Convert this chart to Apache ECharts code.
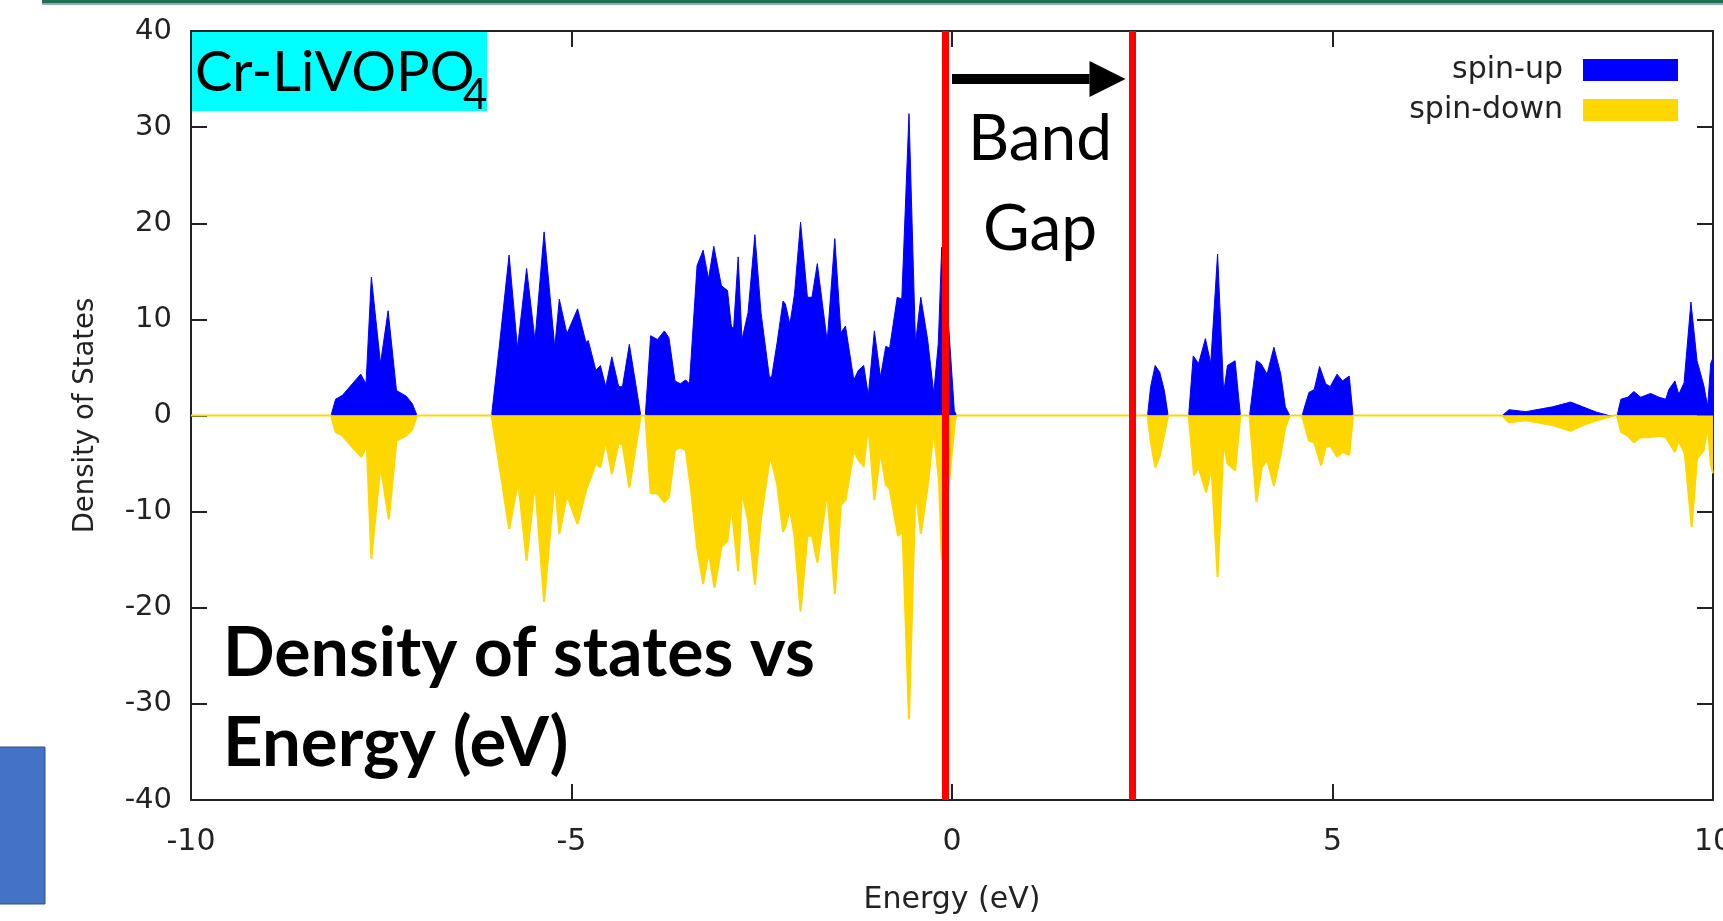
<!DOCTYPE html>
<html><head><meta charset="utf-8">
<script src="https://cdn.jsdelivr.net/npm/echarts@6/dist/echarts.min.js"></script>
<style>html,body{margin:0;padding:0;background:#fff;}#c{width:1723px;height:921px;}</style>
</head><body><div id="c"></div>
<script>
// ---- data ----
const upEnergy = [-10,
 -8.16,-8.10,-8.01,-7.88,-7.77,-7.70,-7.63,-7.51,-7.41,-7.30,-7.17,-7.09,-7.03,
 -6.05,-5.95,-5.82,-5.71,-5.59,-5.48,-5.36,-5.22,-5.16,-5.06,-4.92,-4.81,-4.78,-4.68,-4.62,-4.55,-4.47,-4.38,-4.33,-4.24,-4.09,
 -4.03,-3.96,-3.87,-3.78,-3.72,-3.64,-3.57,-3.50,-3.45,-3.35,-3.27,-3.20,-3.13,-3.03,-2.95,-2.90,-2.87,-2.81,-2.76,-2.68,-2.59,-2.51,-2.40,-2.37,-2.30,-2.22,-2.19,-2.13,-2.07,-1.99,-1.90,-1.84,-1.77,-1.64,-1.54,-1.46,-1.40,-1.29,-1.23,-1.16,-1.10,-1.02,-0.94,-0.87,-0.82,-0.72,-0.66,-0.565,-0.48,-0.41,-0.32,-0.24,-0.18,-0.135,-0.04,0.03,0.06,
 2.57,2.61,2.67,2.73,2.79,2.84,
 3.11,3.17,3.24,3.33,3.40,3.49,3.57,3.62,3.72,3.79,
 3.91,4.00,4.06,4.14,4.23,4.32,4.38,4.44,
 4.60,4.69,4.76,4.83,4.91,4.97,5.06,5.13,5.22,5.27,
 7.23,7.32,7.54,7.89,8.13,8.29,8.47,8.63,
 8.74,8.79,8.88,8.96,9.05,9.18,9.29,9.38,9.42,9.50,9.55,9.62,9.71,9.79,9.88,9.93,9.97,10];
const upDos = [0,
 0,1.7,2.1,3.3,4.3,3.3,14.4,5.4,10.9,2.6,2.0,1.2,0,
 0,7.1,16.7,7.0,15.3,7.8,19.1,7.1,12.1,8.5,11.1,7.6,7.8,4.7,5.2,3.0,6.1,3.0,3.0,7.4,0,
 0,8.3,7.9,8.8,8.1,3.6,3.3,3.7,3.3,15.6,17.2,14.2,17.6,13.5,13.0,9.3,9.0,16.5,7.9,10.7,18.8,10.7,4.0,4.0,7.5,11.9,11.6,9.5,12.6,20.1,12.3,12.3,15.8,7.7,18.4,8.6,9.3,3.7,4.7,5.2,2.1,8.8,4.0,7.2,7.0,12.3,12.1,31.4,7.5,12.3,7.9,2.3,7.5,17.5,8.8,0.5,0,
 0,3.0,5.2,4.5,2.6,0,
 0,6.2,5.4,8.0,5.4,16.8,2.4,5.2,5.7,0,
 0,5.7,5.4,4.3,7.1,4.3,0.9,0,
 0,2.4,2.7,5.1,3.3,3.0,4.3,3.6,4.1,0,
 0,0.6,0.4,0.9,1.4,0.9,0.35,0,
 0,1.7,1.9,2.5,1.9,2.3,1.9,1.7,2.7,3.6,2.2,3.4,11.8,5.7,3.1,0.9,5.4,6.0];
const downEnergy = [-10,
 -8.16,-8.10,-8.01,-7.88,-7.76,-7.69,-7.63,-7.51,-7.40,-7.30,-7.17,-7.09,-7.03,
 -6.05,-5.93,-5.82,-5.70,-5.59,-5.48,-5.36,-5.22,-5.16,-5.06,-4.92,-4.81,-4.68,-4.62,-4.55,-4.47,-4.38,-4.33,-4.24,-4.09,
 -4.03,-3.96,-3.87,-3.78,-3.72,-3.64,-3.57,-3.50,-3.43,-3.35,-3.27,-3.20,-3.12,-3.03,-2.95,-2.90,-2.81,-2.76,-2.68,-2.59,-2.51,-2.39,-2.30,-2.22,-2.19,-2.13,-2.07,-1.99,-1.90,-1.84,-1.77,-1.64,-1.54,-1.46,-1.40,-1.29,-1.23,-1.16,-1.10,-1.02,-0.94,-0.87,-0.82,-0.71,-0.65,-0.565,-0.48,-0.41,-0.32,-0.24,-0.17,-0.135,-0.04,0.04,0.06,
 2.57,2.61,2.67,2.73,2.79,2.84,
 3.11,3.18,3.24,3.34,3.41,3.49,3.57,3.62,3.72,3.79,
 3.91,4.00,4.07,4.14,4.23,4.32,4.38,4.44,
 4.60,4.69,4.76,4.85,4.91,4.97,5.06,5.13,5.22,5.27,
 7.23,7.32,7.54,7.89,8.13,8.29,8.47,8.70,
 8.74,8.79,8.88,8.96,9.05,9.18,9.29,9.38,9.50,9.55,9.63,9.72,9.79,9.88,9.93,9.97,10];
const downDos = [0,
 0,-1.7,-2.1,-3.3,-4.3,-3.1,-14.9,-5.2,-10.8,-2.6,-2.1,-1.4,0,
 0,-6.1,-11.8,-6.9,-15.1,-6.9,-19.4,-6.6,-12.3,-8.3,-11.3,-7.8,-5.0,-5.4,-2.6,-6.1,-2.9,-3.0,-7.5,0,
 0,-8.1,-8.1,-9.0,-8.5,-3.6,-3.3,-3.6,-7.7,-13.7,-17.5,-14.2,-17.9,-13.7,-13.0,-9.3,-16.2,-7.9,-10.9,-17.6,-10.7,-4.2,-7.0,-12.1,-11.6,-9.7,-12.5,-20.4,-12.5,-12.5,-15.3,-7.9,-18.6,-9.3,-8.8,-3.7,-4.6,-5.3,-0.9,-8.8,-3.7,-7.2,-7.6,-12.5,-12.1,-31.6,-7.6,-12.3,-7.4,-1.4,-7.0,-15.0,-7.0,-0.5,0,
 0,-2.6,-5.4,-4.2,-1.9,0,
 0,-6.2,-5.4,-8.0,-5.4,-16.8,-2.6,-5.0,-5.7,0,
 0,-9.0,-5.4,-4.6,-7.3,-4.0,-1.2,0,
 0,-2.6,-2.8,-5.2,-3.3,-3.1,-4.3,-3.8,-4.1,0,
 0,-0.7,-0.5,-1.0,-1.6,-1.0,-0.5,0,
 0,-1.7,-2.1,-2.8,-2.25,-2.25,-2.1,-2.25,-3.8,-2.6,-4.0,-11.6,-4.5,-3.6,-0.9,-5.0,-6.0];
const seriesNames = ['spin-up', 'spin-down'];
const xRange = [-10, 10];
const yRange = [-40, 40];
const bandGapEdges = [-0.085, 2.365];   // red lines (eV)
const arrowSpan = [0.0, 2.28];          // arrow from / to (eV)
const arrowLevel = 35;                  // arrow height (DOS units)

const AXIS_FONT = 'DejaVu Sans';
const NOTE_FONT = 'Lato';
const INK = '#222';

const chart = echarts.init(document.getElementById('c'), null, {renderer: 'canvas'});
const axisCommon = {
  type: 'value', splitLine: {show: false},
  axisLine: {show: true, onZero: false, lineStyle: {color: INK, width: 2}},
  axisTick: {show: true, inside: true, length: 16, lineStyle: {color: INK, width: 2}}
};
const option = {
  animation: false,
  backgroundColor: '#fff',
  grid: {left: 191, right: 10, top: 31, bottom: 121, containLabel: false, outerBoundsMode: 'none'},
  xAxis: [
    Object.assign({}, axisCommon, {position: 'bottom', min: xRange[0], max: xRange[1], interval: 5,
      axisLabel: {fontFamily: AXIS_FONT, fontSize: 30, color: INK, margin: 27},
      name: 'Energy (eV)', nameLocation: 'middle', nameGap: 85,
      nameTextStyle: {fontFamily: AXIS_FONT, fontSize: 30, color: INK}}),
    Object.assign({}, axisCommon, {position: 'top', min: xRange[0], max: xRange[1], interval: 5,
      axisLabel: {show: false}})
  ],
  yAxis: [
    Object.assign({}, axisCommon, {position: 'left', min: yRange[0], max: yRange[1], interval: 10,
      axisLabel: {fontFamily: AXIS_FONT, fontSize: 29, color: INK, margin: 19},
      name: 'Density of States', nameLocation: 'middle', nameGap: 91,
      nameTextStyle: {fontFamily: AXIS_FONT, fontSize: 27.5, color: INK}}),
    Object.assign({}, axisCommon, {position: 'right', min: yRange[0], max: yRange[1], interval: 10,
      axisLabel: {show: false}})
  ],
  legend: {
    orient: 'vertical', right: 45, top: 55, padding: 0, itemWidth: 95, itemHeight: 22, itemGap: 10,
    align: 'right', icon: 'rect', selectedMode: false, data: seriesNames,
    textStyle: {fontFamily: AXIS_FONT, fontSize: 30, color: INK, lineHeight: 22, padding: [0, 15, 0, 0]}
  },
  series: [
    {
      name: seriesNames[0], type: 'line', xAxisIndex: 0, yAxisIndex: 0,
      data: upEnergy.map((e, i) => [e, upDos[i]]),
      showSymbol: false, symbol: 'none', color: '#0000ff',
      lineStyle: {color: '#0000ff', width: 1}, areaStyle: {color: '#0000ff', opacity: 1}, z: 2
    },
    {
      name: seriesNames[1], type: 'line', xAxisIndex: 0, yAxisIndex: 0,
      data: downEnergy.map((e, i) => [e, downDos[i]]),
      showSymbol: false, symbol: 'none', color: '#ffd700',
      lineStyle: {color: '#ffd700', width: 2}, areaStyle: {color: '#ffd700', opacity: 1}, z: 3,
      markLine: {
        silent: true, symbol: ['none', 'none'], label: {show: false},
        lineStyle: {color: '#ff0000', width: 7, type: 'solid'},
        emphasis: {disabled: true},
        data: bandGapEdges.map(v => ({xAxis: v}))
      }
    }
  ]
};
chart.setOption(option);

// annotations positioned through the chart's own scales
const px = (x, y) => chart.convertToPixel({xAxisIndex: 0, yAxisIndex: 0}, [x, y]);
const a0 = px(arrowSpan[0], arrowLevel), a1 = px(arrowSpan[1], arrowLevel);
const headLen = 36, headHalf = 18, shaftHalf = 5;
const gridTL = px(xRange[0], yRange[1]);
chart.setOption({
  graphic: [
    // slide decorations
    {type: 'rect', shape: {x: 42, y: 0, width: 1681, height: 3}, style: {fill: '#1f6f50'}, z: 100},
    {type: 'rect', shape: {x: 42, y: 3, width: 1681, height: 2}, style: {fill: '#8fa8c8'}, z: 100},
    {type: 'rect', shape: {x: -1, y: 747, width: 46, height: 157}, style: {fill: '#4472c4', stroke: '#2f528f', lineWidth: 1}, z: 100},
    // material label
    {type: 'rect', shape: {x: gridTL[0] + 1, y: gridTL[1] + 1, width: 295, height: 79}, style: {fill: '#00ffff'}, z: 50},
    {type: 'text', x: 195, y: 73, style: {text: 'Cr-LiVOPO', font: '56px ' + NOTE_FONT, fill: '#000', verticalAlign: 'middle', align: 'left'}, z: 51},
    {type: 'text', x: 463, y: 95, style: {text: '4', font: '42px ' + NOTE_FONT, fill: '#000', verticalAlign: 'middle', align: 'left'}, z: 51},
    // band gap arrow
    {type: 'rect', shape: {x: a0[0], y: a0[1] - shaftHalf, width: a1[0] - a0[0] - headLen, height: shaftHalf * 2}, style: {fill: '#000'}, z: 50},
    {type: 'polygon', shape: {points: [[a1[0] - headLen, a1[1] - headHalf], [a1[0] - headLen, a1[1] + headHalf], [a1[0], a1[1]]]}, style: {fill: '#000'}, z: 50},
    {type: 'text', x: 1040, y: 139, style: {text: 'Band', font: '64px ' + NOTE_FONT, fill: '#000', align: 'center', verticalAlign: 'middle'}, z: 51},
    {type: 'text', x: 1040, y: 229, style: {text: 'Gap', font: '64px ' + NOTE_FONT, fill: '#000', align: 'center', verticalAlign: 'middle'}, z: 51},
    // caption
    {type: 'text', x: 223, y: 654, style: {text: 'Density of states vs', font: 'bold 68px ' + NOTE_FONT, fill: '#000', align: 'left', verticalAlign: 'middle'}, z: 51},
    {type: 'text', x: 223, y: 744, style: {text: 'Energy (eV)', font: 'bold 69px ' + NOTE_FONT, fill: '#000', align: 'left', verticalAlign: 'middle'}, z: 51}
  ]
});
</script></body></html>
